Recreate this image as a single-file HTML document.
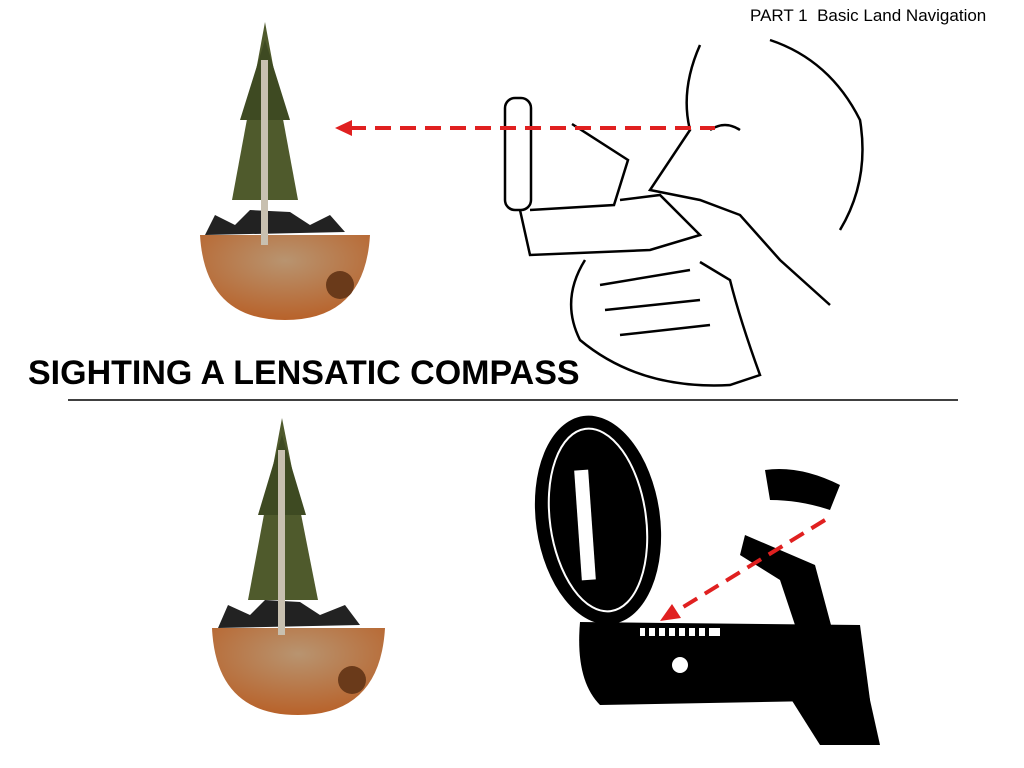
<!DOCTYPE html>
<html><head><meta charset="utf-8"><style>
html,body{margin:0;padding:0;background:#fff;}
body{width:1024px;height:768px;position:relative;overflow:hidden;font-family:"Liberation Sans",sans-serif;}
.hdr{position:absolute;left:750px;top:6px;font-size:17px;color:#000;}
.title{position:absolute;left:28px;top:354px;font-size:34px;font-weight:bold;color:#000;}
</style></head><body>
<svg width="1024" height="768" style="position:absolute;left:0;top:0">
<defs>
<radialGradient id="g" cx="50%" cy="30%" r="70%"><stop offset="0" stop-color="#b89470"/><stop offset="1" stop-color="#b8622a"/></radialGradient>
</defs>
<line x1="68" y1="400" x2="958" y2="400" stroke="#000" stroke-width="1.5"/>
<g>
<path d="M200 235 L370 235 Q365 320 285 320 Q205 320 200 235Z" fill="url(#g)"/>
<path d="M205 235 L215 215 L235 225 L250 210 L290 212 L310 225 L330 215 L345 232Z" fill="#222"/>
<polygon points="265,22 232,200 298,200" fill="#4f5a2c"/>
<polygon points="265,40 240,120 290,120" fill="#3e4a22"/>
<rect x="261" y="60" width="7" height="185" fill="#c8c0b0"/>
<circle cx="340" cy="285" r="14" fill="#6a3a1a"/>
</g>
<g>
<path d="M212 628 L385 628 Q380 715 298 715 Q216 715 212 628Z" fill="url(#g)"/>
<path d="M218 628 L228 605 L250 615 L265 600 L300 602 L320 615 L345 605 L360 625Z" fill="#222"/>
<polygon points="282,418 248,600 318,600" fill="#4f5a2c"/>
<polygon points="282,435 258,515 306,515" fill="#3e4a22"/>
<rect x="278" y="450" width="7" height="185" fill="#c8c0b0"/>
<circle cx="352" cy="680" r="14" fill="#6a3a1a"/>
</g>
<g fill="none" stroke="#000" stroke-width="2.5">
<rect x="505" y="98" width="26" height="112" rx="10"/>
<path d="M572 124 L628 160 L614 205 L530 210"/>
<path d="M520 210 L530 255 L650 250 L700 235 L660 195 L620 200"/>
<path d="M700 45 Q680 90 690 130 L650 190 L700 200 L740 215 L780 260 L830 305"/>
<path d="M770 40 Q830 60 860 120 Q870 180 840 230"/>
<path d="M710 130 Q725 120 740 130"/>
<path d="M585 260 Q560 300 580 340 Q640 390 730 385 L760 375 Q740 320 730 280 L700 262"/>
<path d="M600 285 L690 270 M605 310 L700 300 M620 335 L710 325"/>
</g>
<g fill="#000">
<ellipse cx="598" cy="520" rx="62" ry="105" transform="rotate(-8 598 520)"/>
<path d="M580 622 L860 625 L870 700 L600 705 Q575 680 580 622Z"/>
<path d="M745 535 L815 565 L835 640 L800 640 L780 580 L740 555Z"/>
<path d="M765 470 Q800 465 840 485 L830 510 Q800 500 770 500Z"/>
<path d="M760 650 L860 655 L880 745 L820 745 Z"/>
</g>
<ellipse cx="598" cy="520" rx="48" ry="92" transform="rotate(-8 598 520)" fill="none" stroke="#fff" stroke-width="2"/>
<rect x="578" y="470" width="14" height="110" fill="#fff" transform="rotate(-4 585 525)"/>
<g fill="#fff"><rect x="640" y="628" width="80" height="8"/></g>
<g fill="#000"><rect x="645" y="628" width="4" height="8"/><rect x="655" y="628" width="4" height="8"/><rect x="665" y="628" width="4" height="8"/><rect x="675" y="628" width="4" height="8"/><rect x="685" y="628" width="4" height="8"/><rect x="695" y="628" width="4" height="8"/><rect x="705" y="628" width="4" height="8"/></g>
<circle cx="680" cy="665" r="8" fill="#fff"/>
<line x1="350" y1="128" x2="715" y2="128" stroke="#e02020" stroke-width="4" stroke-dasharray="16,9"/>
<polygon points="335,128 352,120 352,136" fill="#e02020"/>
<line x1="825" y1="520" x2="675" y2="612" stroke="#e02020" stroke-width="4" stroke-dasharray="16,9"/>
<polygon points="660,621 672,604 681,618" fill="#e02020"/>
</svg>
<div class="hdr">PART 1&nbsp; Basic Land Navigation</div>
<div class="title">SIGHTING A LENSATIC COMPASS</div>
</body></html>
